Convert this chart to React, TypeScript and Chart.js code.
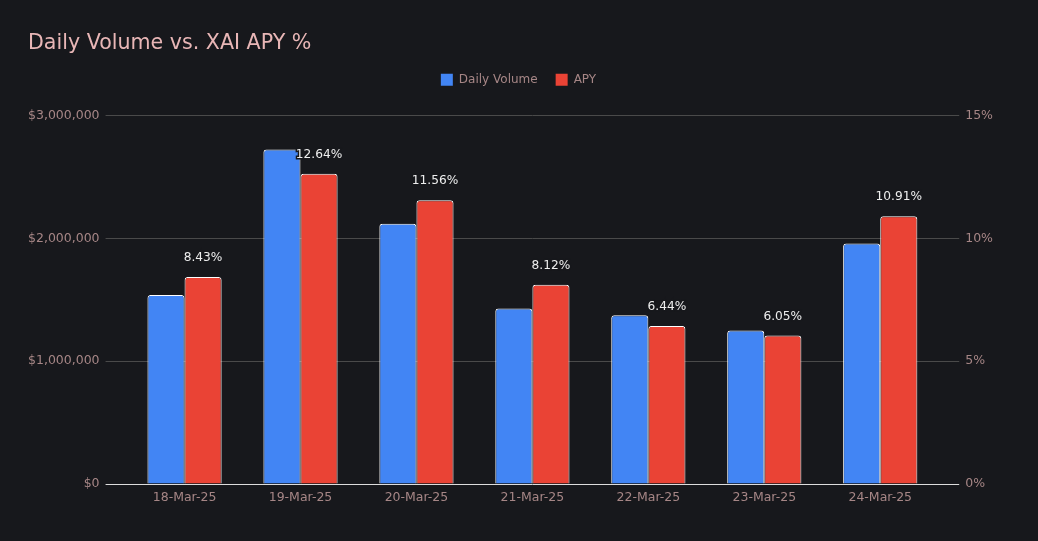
import React, { useEffect, useRef } from "react";
import { Chart, registerables } from "chart.js";

Chart.register(...registerables);

const categories = ["18-Mar-25", "19-Mar-25", "20-Mar-25", "21-Mar-25", "22-Mar-25", "23-Mar-25", "24-Mar-25"];
const dailyVolume = [1540000, 2725000, 2120000, 1430000, 1375000, 1250000, 1960000];
const apy = [8.43, 12.64, 11.56, 8.12, 6.44, 6.05, 10.91];
const volumeTicks = [0, 1000000, 2000000, 3000000];
const apyTicks = [0, 5, 10, 15];

const BG = "#17181c";
const FONT = "'DejaVu Sans', sans-serif";
const TICK_COLOR = "#a68686";
const BLUE = "#4285f4";
const RED = "#ea4335";

const labelPlugin = {
  id: "apyLabels",
  afterDatasetsDraw(chart: any) {
    const ctx = chart.ctx;
    const meta = chart.getDatasetMeta(1);
    ctx.save();
    ctx.font = `12.2px ${FONT}`;
    ctx.textAlign = "center";
    ctx.textBaseline = "middle";
    meta.data.forEach((bar: any, i: number) => {
      const txt = apy[i].toFixed(2) + "%";
      ctx.lineWidth = 3;
      ctx.strokeStyle = BG;
      ctx.strokeText(txt, bar.x, bar.y - 19);
      ctx.fillStyle = "#eeeeee";
      ctx.fillText(txt, bar.x, bar.y - 19);
    });
    ctx.restore();
  },
};

const bgPlugin = {
  id: "bg",
  beforeDraw(chart: any) {
    const ctx = chart.ctx;
    ctx.save();
    ctx.fillStyle = BG;
    ctx.fillRect(0, 0, chart.width, chart.height);
    ctx.restore();
  },
};

const legendMargin = {
  id: "legendMargin",
  beforeInit(chart: any) {
    const orig = chart.legend.fit;
    chart.legend.fit = function () {
      orig.bind(chart.legend)();
      this.height += 20;
    };
  },
  afterLayout(chart: any) {
    chart.legend.left += 5;
    chart.legend.right += 5;
  },
};

export default function App() {
  const ref = useRef<HTMLCanvasElement>(null);
  useEffect(() => {
    document.body.style.background = BG;
    const gridColor = (c: any) => (c.tick && c.tick.value === 0 ? "#dddddd" : "#4a4a4a");
    const chart = new Chart(ref.current!, {
      type: "bar",
      data: {
        labels: categories,
        datasets: [
          {
            label: "Daily Volume",
            data: dailyVolume,
            backgroundColor: BLUE,
            borderColor: "#ffffff",
            borderWidth: 1,
            borderRadius: 3,
            borderSkipped: "bottom",
            yAxisID: "y",
            barPercentage: 1,
            categoryPercentage: 0.64,
          },
          {
            label: "APY",
            data: apy,
            backgroundColor: RED,
            borderColor: "#ffffff",
            borderWidth: 1,
            borderRadius: 3,
            borderSkipped: "bottom",
            yAxisID: "y1",
            barPercentage: 1,
            categoryPercentage: 0.64,
          },
        ],
      },
      options: {
        responsive: false,
        maintainAspectRatio: false,
        animation: false,
        layout: { padding: { left: 20, right: 31, top: 14, bottom: 30 } },
        plugins: {
          title: {
            display: true,
            text: "Daily Volume vs. XAI APY %",
            align: "start",
            color: "#e8b6b6",
            font: { family: FONT, size: 20.6, weight: "normal" },
            padding: { top: 9, bottom: 0 },
          },
          legend: {
            display: true,
            labels: {
              color: TICK_COLOR,
              font: { family: FONT, size: 12 },
              boxWidth: 12,
              boxHeight: 12,
              padding: 18,
              generateLabels: (chart: any) =>
                chart.data.datasets.map((ds: any, i: number) => ({
                  text: ds.label,
                  fillStyle: ds.backgroundColor,
                  strokeStyle: ds.backgroundColor,
                  lineWidth: 0,
                  fontColor: TICK_COLOR,
                  hidden: false,
                  datasetIndex: i,
                })),
            },
          },
          tooltip: { enabled: false },
        },
        scales: {
          x: {
            grid: { display: false },
            border: { display: false },
            ticks: { color: TICK_COLOR, font: { family: FONT, size: 12.5 }, padding: -2 },
          },
          y: {
            position: "left",
            min: 0,
            max: 3000000,
            afterBuildTicks: (axis: any) => {
              axis.ticks = volumeTicks.map((v) => ({ value: v }));
            },
            afterFit: (axis: any) => {
              axis.width -= 6;
            },
            grid: { color: gridColor, tickLength: 21 },
            border: { display: false },
            ticks: {
              color: TICK_COLOR,
              font: { family: FONT, size: 12.5 },
              padding: 6,
              callback: (v: any) => "$" + Number(v).toLocaleString("en-US"),
            },
          },
          y1: {
            position: "right",
            min: 0,
            max: 15,
            afterBuildTicks: (axis: any) => {
              axis.ticks = apyTicks.map((v) => ({ value: v }));
            },
            grid: { drawOnChartArea: false, color: gridColor, tickLength: 21 },
            border: { display: false },
            ticks: {
              color: TICK_COLOR,
              font: { family: FONT, size: 12.5 },
              padding: 6,
              callback: (v: any) => v + "%",
            },
          },
        },
      },
      plugins: [bgPlugin, legendMargin, labelPlugin],
    });
    return () => chart.destroy();
  }, []);
  return (
    <div style={{ width: 1022, height: 525 }}>
      <canvas ref={ref} width={1022} height={525} style={{ display: "block" }} />
    </div>
  );
}
